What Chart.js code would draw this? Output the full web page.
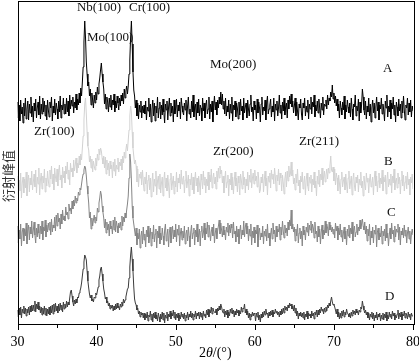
<!DOCTYPE html>
<html>
<head>
<meta charset="utf-8">
<script src="https://cdn.jsdelivr.net/npm/chart.js@4/dist/chart.umd.min.js"></script>
<style>
html,body{margin:0;padding:0;background:#fff;}
canvas{display:block;}
</style>
</head>
<body>
<canvas id="c" width="419" height="361"></canvas>
<script>
// 2θ sampling grid
const thetaStart = 30, thetaStep = 0.1;
// Intensities (arbitrary units), one per 0.1°, one row per degree
const seriesA = [
20,4,17,1,22,8,15,-1,19,6, 24,3,13,21,2,18,9,25,5,16, 0,19,11,23,4,14,20,7,26,3, 18,8,24,10,21,6,17,2,22,12,
5,20,14,25,1,16,9,23,7,19, 13,3,21,10,26,4,17,12,24,8, 18,8,24,10,21,6,27,13,22,16, 25,9,20,14,28,12,23,17,29,19,
34,26,40,55,80,101,84,60,48,36, 40,26,33,17,29,22,14,27,19,30, 22,35,28,38,44,52,59,48,40,33, 18,28,13,25,20,10,24,15,27,12,
22,17,28,10,21,14,26,19,12,24, 16,27,21,29,18,33,24,31,36,28, 36,48,62,85,101,78,50,32,26,14, 22,6,19,3,17,10,21,4,16,9,
17,8,21,2,15,11,24,5,18,0, 13,22,6,19,1,16,9,25,4,14, 20,3,17,7,23,10,-1,18,12,21, 2,15,24,6,19,9,16,0,22,8,
14,23,5,17,11,20,3,24,16,10, 7,19,12,22,1,16,25,8,13,4, 21,10,27,5,15,18,2,20,9,23, 6,17,14,1,24,11,19,4,16,22,
8,13,25,3,18,10,21,0,15,26, 12,20,7,22,14,25,18,30,17,28, 13,21,8,24,6,16,10,22,3,18, 9,25,1,17,12,21,5,19,14,3,
20,7,23,11,16,2,24,9,15,19, 4,22,13,6,18,27,10,15,1,21, 12,17,3,23,9,20,14,0,18,25, 7,15,11,22,2,19,26,8,13,17,
23,5,16,10,24,1,18,12,21,6, 14,27,9,17,3,20,11,24,7,15, 19,4,22,13,26,18,28,15,21,9, 16,24,6,20,11,2,18,14,23,8,
2,19,14,24,6,16,10,22,3,18, 13,25,8,20,15,27,5,17,11,21, 9,23,14,4,19,12,25,7,18,16, 22,13,27,17,24,21,30,25,37,23,
29,19,26,16,23,11,18,4,21,14, 7,20,12,26,3,17,10,22,15,9, 19,5,24,13,2,18,15,27,6,16, 11,23,1,20,9,17,33,25,12,7,
21,3,16,10,24,6,18,0,14,22, 9,19,4,15,25,11,20,2,17,13, 24,8,18,12,1,21,14,27,5,16, 10,22,3,19,13,25,7,17,0,20,
15,6,23,11,18,4,21,9,26,12, 2,17,14,24,7,19,10,22,5,16, 11];
const seriesB = [
20,1,16,5,23,-2,13,19,3,17, 8,24,0,15,21,4,18,11,25,6, 14,22,9,26,3,19,12,28,1,16, 23,7,20,13,27,4,18,10,25,15,
9,26,17,30,12,22,6,28,19,14, 27,10,24,31,16,21,8,29,18,25, 13,30,22,34,17,26,11,33,24,28, 19,36,25,31,38,23,33,28,40,31,
42,36,48,60,76,92,98,82,64,50, 46,34,40,28,37,24,35,30,26,38, 30,42,36,47,41,48,45,38,32,40, 28,39,22,36,26,33,20,35,27,31,
18,34,25,37,20,31,27,38,24,34, 30,37,26,40,33,44,38,46,52,45, 56,66,80,90,84,64,48,40,32,36, 30,14,27,9,22,18,24,11,26,15,
5,19,12,24,2,16,21,6,18,-1, 14,23,4,17,10,25,1,15,20,7, 22,3,13,19,0,16,24,8,18,5, 21,11,-2,17,23,6,14,20,2,15,
9,24,4,18,13,22,7,26,12,17, 20,3,16,25,8,14,21,0,17,11, 23,6,19,2,15,24,10,18,4,20, 13,1,22,16,7,25,11,19,3,17,
10,24,6,21,14,27,8,18,23,12, 19,7,25,14,28,18,30,22,26,13, 20,3,16,25,8,14,21,0,17,11, 23,6,19,2,15,24,10,18,4,20,
13,1,22,16,7,25,11,19,3,17, 10,24,6,21,14,27,8,18,23,12, 26,15,20,9,24,17,3,6,19,13, 22,4,16,25,10,18,1,20,14,23,
8,26,17,22,12,28,19,5,21,15, 27,11,23,18,5,21,13,2,17,24, 9,25,15,30,19,22,34,20,26,12, 18,6,22,13,27,10,16,3,20,14,
24,7,14,20,1,16,23,10,5,19, 13,21,4,17,11,24,8,15,0,20, 12,26,9,22,16,28,11,19,25,14, 21,27,17,28,23,30,40,26,24,29,
15,27,11,23,18,5,21,13,2,17, 24,9,15,19,6,22,12,3,18,25, 7,14,20,1,16,23,10,5,19,13, 21,4,17,11,24,8,15,0,20,12,
6,23,14,18,3,16,22,9,13,19, 1,17,25,10,20,4,15,23,8,18, 12,26,5,19,14,21,2,16,24,9, 17,11,22,3,20,13,27,6,15,18,
8,23,12,19,2,16,25,10,21,5, 14,20,7,24,11,17,1,19,13,22, 7];
const seriesC = [
22,5,18,9,24,2,16,20,7,19, 12,25,4,17,23,8,21,14,27,10, 18,26,13,5,20,11,24,15,9,22, 14,27,8,21,17,28,11,23,16,25,
18,26,13,29,16,23,20,31,17,33, 22,35,26,30,19,34,24,38,28,32, 27,41,33,36,29,44,37,40,34,47, 39,48,42,52,45,50,47,56,53,60,
58,64,70,74,78,82,80,72,62,54, 45,30,36,19,30,22,28,33,25,31, 27,40,36,45,50,57,53,42,36,30, 20,29,15,26,18,24,12,27,19,22,
14,28,18,31,16,27,22,15,25,20, 26,18,32,22,31,26,35,30,38,44, 52,70,94,86,68,42,30,24,18,12, 20,3,15,9,19,0,12,17,4,21,
8,14,1,18,11,22,5,13,20,2, 16,9,23,6,14,19,0,17,10,22, 4,15,8,20,12,3,18,24,7,13, 19,1,16,21,5,14,22,9,18,11,
24,6,19,13,23,2,15,20,8,17, 10,22,4,14,18,7,21,12,1,16, 23,9,15,20,3,18,11,24,6,13, 19,2,17,22,10,15,25,8,20,14,
26,11,23,18,7,16,21,12,24,5, 15,20,9,17,22,28,14,25,18,11, 22,13,18,8,21,16,25,12,23,15, 24,20,10,26,14,17,6,22,11,19,
4,16,23,9,18,13,27,11,21,25, 14,22,7,19,12,24,3,17,10,21, 5,18,14,23,1,16,20,8,15,11, 22,4,17,12,19,7,24,10,15,2,
13,20,9,25,14,18,6,22,11,19, 16,24,8,21,13,27,17,10,23,15, 20,12,26,18,28,22,38,19,24,16, 21,7,19,12,24,5,15,20,9,17,
2,22,13,18,8,21,16,25,12,23, 18,27,15,24,20,10,26,14,17,6, 22,11,19,4,16,23,9,18,13,27, 15,24,20,12,26,18,23,16,21,14,
19,10,25,17,22,8,20,13,24,11, 18,6,15,21,9,17,3,19,12,23, 10,20,14,26,7,18,22,11,16,24, 13,21,17,28,19,24,29,22,18,26,
14,22,7,19,12,24,3,17,10,21, 5,18,14,23,1,16,20,8,15,11, 22,4,17,12,19,7,24,10,15,2, 13,20,9,25,14,18,6,22,11,19,
16,24,8,21,3,17,13,20,10,23, 12,18,5,15,21,9,17,4,14,19, 13];
const seriesD = [
15,8,17,10,18,7,16,12,19,11, 17,9,16,12,18,10,19,13,20,14, 20,14,24,13,21,16,23,15,19,12, 18,10,17,11,19,10,17,9,16,11,
18,10,19,12,20,11,21,13,22,14, 19,12,21,14,22,15,20,13,23,16, 21,17,24,18,23,20,27,33,35,29, 23,19,25,21,26,22,28,27,32,34,
37,42,49,56,63,70,68,65,54,44, 37,31,27,30,24,26,23,28,27,32, 30,34,38,45,49,56,58,51,44,36, 32,26,28,22,24,19,22,16,20,17,
20,14,19,15,21,16,22,17,19,15, 21,18,23,19,26,22,25,28,32,36, 37,47,58,70,78,66,54,38,26,22, 20,15,17,11,14,8,13,10,12,7,
12,5,11,7,13,4,10,8,14,5, 11,3,12,7,13,6,10,4,12,8, 3,11,6,13,5,12,2,10,7,13, 4,11,8,14,6,12,9,15,7,13,
5,11,7,12,4,10,6,13,8,11, 6,12,4,10,7,13,5,11,8,14, 7,12,5,11,8,14,6,12,9,13, 6,13,8,12,5,14,9,11,7,15,
10,16,8,15,12,18,11,17,14,13, 12,16,10,17,14,19,15,21,18,14, 12,16,8,14,10,15,7,13,9,16, 12,17,11,15,8,14,10,16,12,15,
9,14,11,18,13,17,16,21,12,16, 10,14,7,12,5,11,8,13,9,12, 11,4,12,8,13,5,10,3,11,7, 13,8,14,10,16,11,12,7,13,9,
14,10,15,8,13,11,16,12,14,10, 13,8,14,10,16,11,17,12,19,15, 18,14,20,17,22,19,21,16,19,14, 20,12,17,9,14,6,12,9,13,8,
12,7,13,5,11,8,14,6,12,9, 11,7,14,9,12,6,13,10,15,8, 15,10,16,12,18,14,16,11,17,13, 18,14,20,17,22,19,24,28,23,20,
21,18,15,11,16,8,13,6,12,7, 14,9,15,8,13,10,16,12,11,8, 12,7,13,9,15,11,14,10,16,12, 14,10,15,13,18,16,24,19,15,12,
15,10,13,7,12,5,11,8,13,6, 12,4,10,7,13,5,11,8,12,4, 10,6,12,5,11,7,13,4,10,6, 13,8,11,6,14,9,12,5,10,7,
11,15,6,12,8,13,5,11,9,14, 7,12,10,6,13,8,11,5,12,9, 9];
const seriesNames = ['A','B','C','D'];
const seriesOffsets = [203, 129, 77, 0];   // vertical stacking offsets
const seriesColors = ['#000000', '#d2d2d2', '#868686', '#3c3c3c'];
const xTicks = [30, 40, 50, 60, 70, 80];
const yTitle = '衍射峰值';
// peak annotations: [text, 2θ, height]
const peakLabels = [
  ['Nb(100)', 37.52, 317], ['Cr(100)', 44.1, 317], ['Mo(100)', 38.79, 287],
  ['Mo(200)', 54.34, 260], ['Zr(100)', 32.09, 193], ['Zr(200)', 54.72, 173],
  ['Zr(211)', 65.59, 183]
];
const curveLabelPos = [[76.2, 256], [76.33, 163], [76.71, 112], [76.46, 28]];

const allSeries = [seriesA, seriesB, seriesC, seriesD];
const datasets = allSeries.map((s, k) => ({
  label: seriesNames[k],
  data: s.map((v, i) => ({x: thetaStart + i * thetaStep, y: v + seriesOffsets[k]})),
  borderColor: seriesColors[k],
  borderWidth: 1,
  pointRadius: 0,
  tension: 0,
  fill: false
}));

const SERIF = "'Liberation Serif', 'Times New Roman', serif";

const decor = {
  id: 'decor',
  afterDraw(chart) {
    const ctx = chart.ctx, a = chart.chartArea;
    const xs = chart.scales.x, ys = chart.scales.y;
    ctx.save();
    // frame
    ctx.strokeStyle = '#000';
    ctx.lineWidth = 1;
    ctx.strokeRect(Math.round(a.left) + 0.5, Math.round(a.top) + 0.5, Math.round(a.right - a.left), Math.round(a.bottom - a.top) - 1);
    // ticks (major outward 5px, minor 3px)
    for (let v = 30; v <= 80; v += 5) {
      const px = Math.round(xs.getPixelForValue(v)) + 0.5;
      const len = (v % 10 === 0) ? 5 : 3;
      ctx.beginPath();
      ctx.moveTo(px, Math.round(a.bottom) - 0.5);
      ctx.lineTo(px, Math.round(a.bottom) + len);
      ctx.stroke();
    }
    // tick labels
    ctx.fillStyle = '#000';
    ctx.font = '14px ' + SERIF;
    ctx.textAlign = 'center';
    ctx.textBaseline = 'middle';
    xTicks.forEach(v => ctx.fillText(String(v), xs.getPixelForValue(v), 342));
    // x title 2θ/(°)
    const parts = [['2', ''], ['θ', 'italic '], ['/(°)', '']];
    let total = 0;
    parts.forEach(p => { ctx.font = p[1] + '14px ' + SERIF; total += ctx.measureText(p[0]).width; });
    let xx = (a.left + a.right) / 2 - total / 2;
    ctx.textAlign = 'left';
    parts.forEach(p => { ctx.font = p[1] + '14px ' + SERIF; ctx.fillText(p[0], xx, 353); xx += ctx.measureText(p[0]).width; });
    // y title
    ctx.save();
    ctx.translate(8, 176);
    ctx.rotate(-Math.PI / 2);
    ctx.font = "13px 'Noto Sans CJK SC', sans-serif";
    ctx.fillStyle = '#333';
    ctx.textAlign = 'center';
    ctx.fillText(yTitle, 0, 0);
    ctx.restore();
    // annotations
    ctx.font = '13px ' + SERIF;
    ctx.fillStyle = '#111';
    ctx.textAlign = 'left';
    ctx.textBaseline = 'middle';
    peakLabels.forEach(l => ctx.fillText(l[0], xs.getPixelForValue(l[1]), ys.getPixelForValue(l[2])));
    seriesNames.forEach((n, k) => ctx.fillText(n, xs.getPixelForValue(curveLabelPos[k][0]), ys.getPixelForValue(curveLabelPos[k][1])));
    ctx.restore();
  }
};

new Chart(document.getElementById('c'), {
  type: 'line',
  data: { datasets },
  options: {
    responsive: false,
    animation: false,
    events: [],
    layout: { padding: { left: 0, right: 6, top: 1, bottom: 0 } },
    plugins: { legend: { display: false }, tooltip: { enabled: false } },
    scales: {
      x: {
        type: 'linear', min: 30, max: 80,
        ticks: { display: false, stepSize: 10 },
        grid: { display: false },
        border: { display: false },
        afterFit(s) { s.height = 36; s.paddingLeft = 0; s.paddingRight = 0; }
      },
      y: {
        min: 0, max: 324,
        ticks: { display: false },
        grid: { display: false },
        border: { display: false },
        afterFit(s) { s.width = 17.5; s.paddingTop = 0; s.paddingBottom = 0; }
      }
    }
  },
  plugins: [decor]
});
</script>
</body>
</html>
